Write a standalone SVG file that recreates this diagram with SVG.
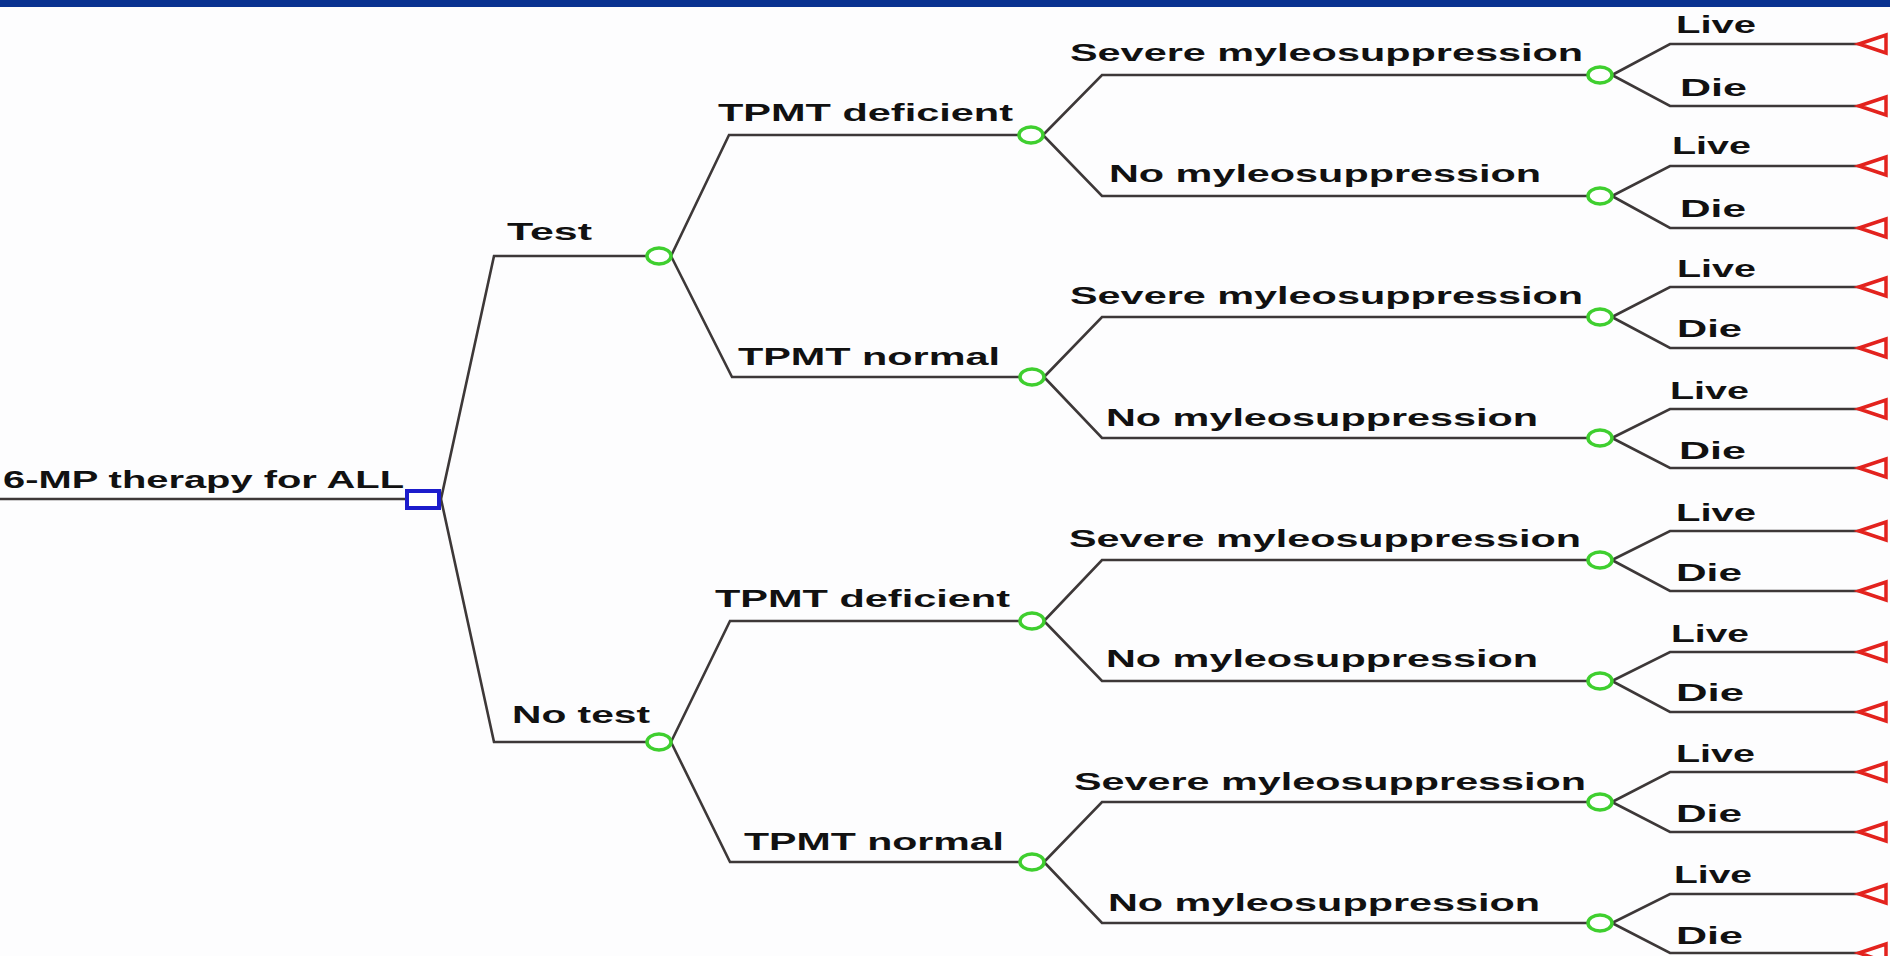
<svg xmlns="http://www.w3.org/2000/svg" width="1890" height="956" viewBox="0 0 1890 956">
  <style>
    .lbl { font-family: "Liberation Sans", Arial, sans-serif; font-weight: bold; font-size: 23px; fill: #111; }
    .edge { fill: none; stroke: #3d3838; stroke-width: 2.6; stroke-linejoin: miter; }
    .chance { fill: #fff; stroke: #3fcf2f; stroke-width: 3.5; }
    .decision { fill: #fff; stroke: #1c1ccc; stroke-width: 4; }
    .terminal { fill: #fff; stroke: #e3231e; stroke-width: 3.5; stroke-linejoin: miter; }
  </style>
  <defs>
    <ellipse id="chanceShape" cx="0" cy="0" rx="12" ry="8" class="chance"/>
    <polygon id="terminalShape" points="0,0 27,-9 27,9" class="terminal"/>
  </defs>

  <rect x="0" y="0" width="1890" height="956" fill="#fdfdfe"/>
  <rect x="0" y="0" width="1890" height="7" fill="#0a3291"/>

  <!-- branches -->
  <g id="connectors">
    <path class="edge" d="M0 499 H405"/>
    <path class="edge" d="M441 499 L494 256 H659"/>
    <path class="edge" d="M441 499 L494 742 H659"/>

    <path class="edge" d="M671 256 L729 135 H1031"/>
    <path class="edge" d="M671 256 L732 377 H1032"/>
    <path class="edge" d="M671 742 L730 621 H1032"/>
    <path class="edge" d="M671 742 L730 862 H1032"/>

    <path class="edge" d="M1043 135 L1102 75 H1600"/>
    <path class="edge" d="M1043 135 L1102 196 H1600"/>
    <path class="edge" d="M1044 377 L1102 317 H1600"/>
    <path class="edge" d="M1044 377 L1102 438 H1600"/>
    <path class="edge" d="M1044 621 L1102 560 H1600"/>
    <path class="edge" d="M1044 621 L1102 681 H1600"/>
    <path class="edge" d="M1044 862 L1102 802 H1600"/>
    <path class="edge" d="M1044 862 L1102 923 H1600"/>

    <path class="edge" d="M1612 75 L1670 44 H1859"/>
    <path class="edge" d="M1612 75 L1670 106 H1859"/>
    <path class="edge" d="M1612 196 L1670 166 H1859"/>
    <path class="edge" d="M1612 196 L1670 228 H1859"/>
    <path class="edge" d="M1612 317 L1670 287 H1859"/>
    <path class="edge" d="M1612 317 L1670 348 H1859"/>
    <path class="edge" d="M1612 438 L1670 409 H1859"/>
    <path class="edge" d="M1612 438 L1670 468 H1859"/>
    <path class="edge" d="M1612 560 L1670 531 H1859"/>
    <path class="edge" d="M1612 560 L1670 591 H1859"/>
    <path class="edge" d="M1612 681 L1670 652 H1859"/>
    <path class="edge" d="M1612 681 L1670 712 H1859"/>
    <path class="edge" d="M1612 802 L1670 772 H1859"/>
    <path class="edge" d="M1612 802 L1670 832 H1859"/>
    <path class="edge" d="M1612 923 L1670 894 H1859"/>
    <path class="edge" d="M1612 923 L1670 953 H1859"/>
  </g>

  <!-- decision node -->
  <g id="root">
    <text class="lbl" x="3" y="488" textLength="401" lengthAdjust="spacingAndGlyphs">6-MP therapy for ALL</text>
    <rect class="decision" x="407" y="491" width="32" height="17"/>
  </g>

  <!-- strategy chance nodes -->
  <g id="test">
    <text class="lbl" x="507" y="240" textLength="85" lengthAdjust="spacingAndGlyphs">Test</text>
    <use href="#chanceShape" x="659" y="256"/>
  </g>
  <g id="no-test">
    <text class="lbl" x="512" y="723" textLength="138" lengthAdjust="spacingAndGlyphs">No test</text>
    <use href="#chanceShape" x="659" y="742"/>
  </g>

  <!-- TPMT status chance nodes -->
  <g id="test-deficient">
    <text class="lbl" x="718" y="121" textLength="295" lengthAdjust="spacingAndGlyphs">TPMT deficient</text>
    <use href="#chanceShape" x="1031" y="135"/>
  </g>
  <g id="test-normal">
    <text class="lbl" x="738" y="365" textLength="262" lengthAdjust="spacingAndGlyphs">TPMT normal</text>
    <use href="#chanceShape" x="1032" y="377"/>
  </g>
  <g id="notest-deficient">
    <text class="lbl" x="715" y="607" textLength="295" lengthAdjust="spacingAndGlyphs">TPMT deficient</text>
    <use href="#chanceShape" x="1032" y="621"/>
  </g>
  <g id="notest-normal">
    <text class="lbl" x="744" y="850" textLength="260" lengthAdjust="spacingAndGlyphs">TPMT normal</text>
    <use href="#chanceShape" x="1032" y="862"/>
  </g>

  <!-- myelosuppression chance nodes -->
  <g id="m1">
    <text class="lbl" x="1070" y="61" textLength="513" lengthAdjust="spacingAndGlyphs">Severe myleosuppression</text>
    <use href="#chanceShape" x="1600" y="75"/>
  </g>
  <g id="m2">
    <text class="lbl" x="1109" y="182" textLength="432" lengthAdjust="spacingAndGlyphs">No myleosuppression</text>
    <use href="#chanceShape" x="1600" y="196"/>
  </g>
  <g id="m3">
    <text class="lbl" x="1070" y="304" textLength="513" lengthAdjust="spacingAndGlyphs">Severe myleosuppression</text>
    <use href="#chanceShape" x="1600" y="317"/>
  </g>
  <g id="m4">
    <text class="lbl" x="1106" y="426" textLength="432" lengthAdjust="spacingAndGlyphs">No myleosuppression</text>
    <use href="#chanceShape" x="1600" y="438"/>
  </g>
  <g id="m5">
    <text class="lbl" x="1069" y="547" textLength="512" lengthAdjust="spacingAndGlyphs">Severe myleosuppression</text>
    <use href="#chanceShape" x="1600" y="560"/>
  </g>
  <g id="m6">
    <text class="lbl" x="1106" y="667" textLength="432" lengthAdjust="spacingAndGlyphs">No myleosuppression</text>
    <use href="#chanceShape" x="1600" y="681"/>
  </g>
  <g id="m7">
    <text class="lbl" x="1074" y="790" textLength="512" lengthAdjust="spacingAndGlyphs">Severe myleosuppression</text>
    <use href="#chanceShape" x="1600" y="802"/>
  </g>
  <g id="m8">
    <text class="lbl" x="1108" y="911" textLength="432" lengthAdjust="spacingAndGlyphs">No myleosuppression</text>
    <use href="#chanceShape" x="1600" y="923"/>
  </g>

  <!-- outcome terminal nodes -->
  <g id="t1-live"><text class="lbl" x="1676" y="33" textLength="80" lengthAdjust="spacingAndGlyphs">Live</text><use href="#terminalShape" x="1859" y="44"/></g>
  <g id="t1-die"><text class="lbl" x="1680" y="96" textLength="67" lengthAdjust="spacingAndGlyphs">Die</text><use href="#terminalShape" x="1859" y="106"/></g>
  <g id="t2-live"><text class="lbl" x="1672" y="154" textLength="79" lengthAdjust="spacingAndGlyphs">Live</text><use href="#terminalShape" x="1859" y="166"/></g>
  <g id="t2-die"><text class="lbl" x="1680" y="217" textLength="66" lengthAdjust="spacingAndGlyphs">Die</text><use href="#terminalShape" x="1859" y="228"/></g>
  <g id="t3-live"><text class="lbl" x="1677" y="277" textLength="79" lengthAdjust="spacingAndGlyphs">Live</text><use href="#terminalShape" x="1859" y="287"/></g>
  <g id="t3-die"><text class="lbl" x="1677" y="337" textLength="65" lengthAdjust="spacingAndGlyphs">Die</text><use href="#terminalShape" x="1859" y="348"/></g>
  <g id="t4-live"><text class="lbl" x="1670" y="399" textLength="79" lengthAdjust="spacingAndGlyphs">Live</text><use href="#terminalShape" x="1859" y="409"/></g>
  <g id="t4-die"><text class="lbl" x="1679" y="459" textLength="67" lengthAdjust="spacingAndGlyphs">Die</text><use href="#terminalShape" x="1859" y="468"/></g>
  <g id="t5-live"><text class="lbl" x="1676" y="521" textLength="80" lengthAdjust="spacingAndGlyphs">Live</text><use href="#terminalShape" x="1859" y="531"/></g>
  <g id="t5-die"><text class="lbl" x="1676" y="581" textLength="66" lengthAdjust="spacingAndGlyphs">Die</text><use href="#terminalShape" x="1859" y="591"/></g>
  <g id="t6-live"><text class="lbl" x="1671" y="642" textLength="78" lengthAdjust="spacingAndGlyphs">Live</text><use href="#terminalShape" x="1859" y="652"/></g>
  <g id="t6-die"><text class="lbl" x="1676" y="701" textLength="68" lengthAdjust="spacingAndGlyphs">Die</text><use href="#terminalShape" x="1859" y="712"/></g>
  <g id="t7-live"><text class="lbl" x="1676" y="762" textLength="79" lengthAdjust="spacingAndGlyphs">Live</text><use href="#terminalShape" x="1859" y="772"/></g>
  <g id="t7-die"><text class="lbl" x="1676" y="822" textLength="66" lengthAdjust="spacingAndGlyphs">Die</text><use href="#terminalShape" x="1859" y="832"/></g>
  <g id="t8-live"><text class="lbl" x="1674" y="883" textLength="78" lengthAdjust="spacingAndGlyphs">Live</text><use href="#terminalShape" x="1859" y="894"/></g>
  <g id="t8-die"><text class="lbl" x="1676" y="944" textLength="67" lengthAdjust="spacingAndGlyphs">Die</text><use href="#terminalShape" x="1859" y="953"/></g>
</svg>
